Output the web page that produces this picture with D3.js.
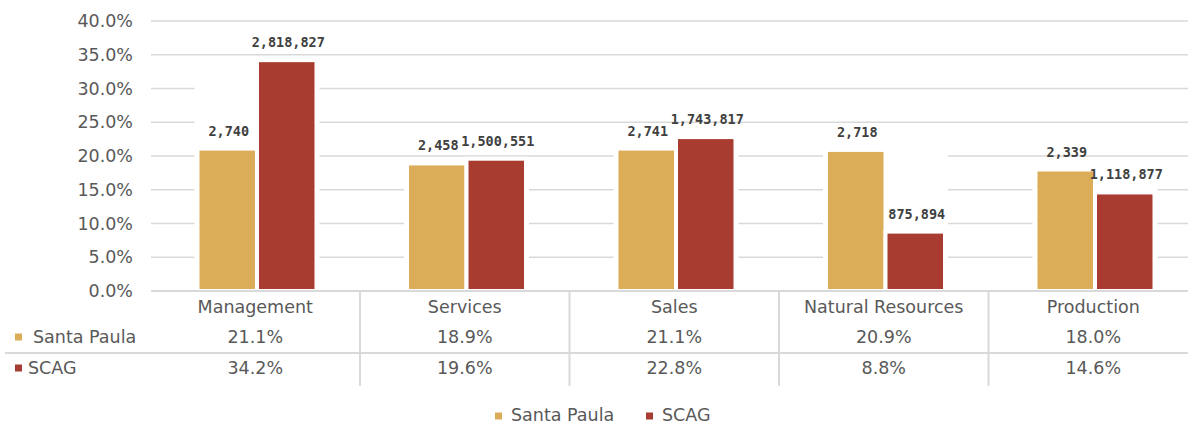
<!DOCTYPE html>
<html>
<head>
<meta charset="utf-8">
<script src="https://cdn.jsdelivr.net/npm/d3@7"></script>
<style>
    body { margin: 0; background: #fff; }
    svg { display: block; }
    .lbl { font-family: "DejaVu Sans", sans-serif; font-size: 17.5px; fill: #595959; }
    .val { font-family: "DejaVu Sans Mono", monospace; font-size: 13.5px; font-weight: bold; fill: #404040; }
</style>
</head>
<body>
<div id="my_dataviz"><svg></svg></div>
<script>
// chart data
var categories = ["Management", "Services", "Sales", "Natural Resources", "Production"];
var seriesNames = ["Santa Paula", "SCAG"];
var santaPaulaPct = [0.211, 0.189, 0.211, 0.209, 0.180];
var scagPct = [0.342, 0.196, 0.228, 0.088, 0.146];
var santaPaulaCount = [2740, 2458, 2741, 2718, 2339];
var scagCount = [2818827, 1500551, 1743817, 875894, 1118877];
var yTicks = [0, 0.05, 0.10, 0.15, 0.20, 0.25, 0.30, 0.35, 0.40];
var colors = ["#DBAD59", "#A93C31"];

var width = 1188, height = 425;
var gridColor = "#D9D9D9";

var svg = d3.select("#my_dataviz").select("svg")
    .attr("width", width)
    .attr("height", height);

var xAxis = d3.scaleBand()
    .domain(categories)
    .range([150.5, 1198])
    .padding(0);

var xSeries = d3.scaleBand()
    .domain(seriesNames)
    .range([47, 166])
    .padding(0);

var yAxis = d3.scaleLinear()
    .domain([0, 0.4])
    .range([291, 21]);

var pctFmt = d3.format(".1%");
var numFmt = d3.format(",");

// gridlines
svg.append("g")
    .selectAll("line")
    .data(yTicks.filter(function (d) { return d > 0; }))
    .enter()
    .append("line")
    .attr("x1", 151)
    .attr("x2", width)
    .attr("y1", function (d) { return yAxis(d); })
    .attr("y2", function (d) { return yAxis(d); })
    .attr("stroke", gridColor)
    .attr("stroke-width", 1.5);

// y tick labels
svg.append("g")
    .selectAll("text")
    .data(yTicks)
    .enter()
    .append("text")
    .attr("class", "lbl")
    .attr("x", 133)
    .attr("y", function (d) { return yAxis(d); })
    .attr("text-anchor", "end")
    .attr("dominant-baseline", "central")
    .text(function (d) { return pctFmt(d); });

// bar rows
var rows = categories.map(function (c, i) {
    return [
        { cat: c, s: seriesNames[0], v: santaPaulaPct[i], n: santaPaulaCount[i] },
        { cat: c, s: seriesNames[1], v: scagPct[i], n: scagCount[i] }
    ];
});
var bars = [].concat.apply([], rows);

var groups = svg.append("g");

// white backing, hides the grid close to the bars
groups.selectAll(".back")
    .data(rows)
    .enter()
    .append("rect")
    .attr("class", "back")
    .attr("x", function (d) { return xAxis(d[0].cat) + xSeries(seriesNames[0]) - 3; })
    .attr("width", xSeries.bandwidth() * 2 + 6)
    .attr("y", function (d) { return yAxis(Math.max(d[0].v, d[1].v)); })
    .attr("height", function (d) { return 291 - yAxis(Math.max(d[0].v, d[1].v)); })
    .attr("fill", "#fff");

groups.selectAll(".bar")
    .data(bars)
    .enter()
    .append("rect")
    .attr("class", "bar")
    .attr("x", function (d) { return xAxis(d.cat) + xSeries(d.s); })
    .attr("y", function (d) { return yAxis(d.v); })
    .attr("width", xSeries.bandwidth())
    .attr("height", function (d) { return 291 - yAxis(d.v); })
    .attr("fill", function (d) { return colors[seriesNames.indexOf(d.s)]; })
    .attr("stroke", "#fff")
    .attr("stroke-width", 4);

// data labels
groups.selectAll(".val")
    .data(bars)
    .enter()
    .append("text")
    .attr("class", "val")
    .attr("x", function (d) { return xAxis(d.cat) + xSeries(d.s) + xSeries.bandwidth() / 2 + 1.5; })
    .attr("y", function (d) { return yAxis(d.v) - 18; })
    .attr("text-anchor", "middle")
    .attr("dominant-baseline", "central")
    .text(function (d) { return numFmt(d.n); });

// data table
var table = svg.append("g");
var rowY = [337, 368];

table.append("line")
    .attr("x1", 151).attr("x2", width)
    .attr("y1", 291).attr("y2", 291)
    .attr("stroke", gridColor).attr("stroke-width", 2);

table.append("line")
    .attr("x1", 5).attr("x2", width)
    .attr("y1", 353).attr("y2", 353)
    .attr("stroke", gridColor).attr("stroke-width", 2);

table.selectAll(".sep")
    .data(categories.slice(1))
    .enter()
    .append("line")
    .attr("class", "sep")
    .attr("x1", function (d) { return xAxis(d); })
    .attr("x2", function (d) { return xAxis(d); })
    .attr("y1", 291).attr("y2", 386)
    .attr("stroke", gridColor).attr("stroke-width", 2);

table.selectAll(".cat")
    .data(categories)
    .enter()
    .append("text")
    .attr("class", "lbl")
    .attr("x", function (d) { return xAxis(d) + xAxis.bandwidth() / 2; })
    .attr("y", 307)
    .attr("text-anchor", "middle")
    .attr("dominant-baseline", "central")
    .text(function (d) { return d; });

table.selectAll(".cell")
    .data(bars)
    .enter()
    .append("text")
    .attr("class", "lbl")
    .attr("x", function (d) { return xAxis(d.cat) + xAxis.bandwidth() / 2; })
    .attr("y", function (d) { return rowY[seriesNames.indexOf(d.s)]; })
    .attr("text-anchor", "middle")
    .attr("dominant-baseline", "central")
    .text(function (d) { return pctFmt(d.v); });

var rowTextX = [33, 28];
seriesNames.forEach(function (s, i) {
    table.append("rect")
        .attr("x", 15).attr("y", rowY[i] - 3.5)
        .attr("width", 7).attr("height", 7)
        .attr("fill", colors[i]);
    table.append("text")
        .attr("class", "lbl")
        .attr("x", rowTextX[i])
        .attr("y", rowY[i])
        .attr("dominant-baseline", "central")
        .text(s);
});

// legend
var legendX = [495, 646];
var legend = svg.append("g");
seriesNames.forEach(function (s, i) {
    legend.append("rect")
        .attr("x", legendX[i]).attr("y", 412.5)
        .attr("width", 7).attr("height", 7)
        .attr("fill", colors[i]);
    legend.append("text")
        .attr("class", "lbl")
        .attr("x", legendX[i] + 16)
        .attr("y", 415)
        .attr("dominant-baseline", "central")
        .text(s);
});
</script>
</body>
</html>
